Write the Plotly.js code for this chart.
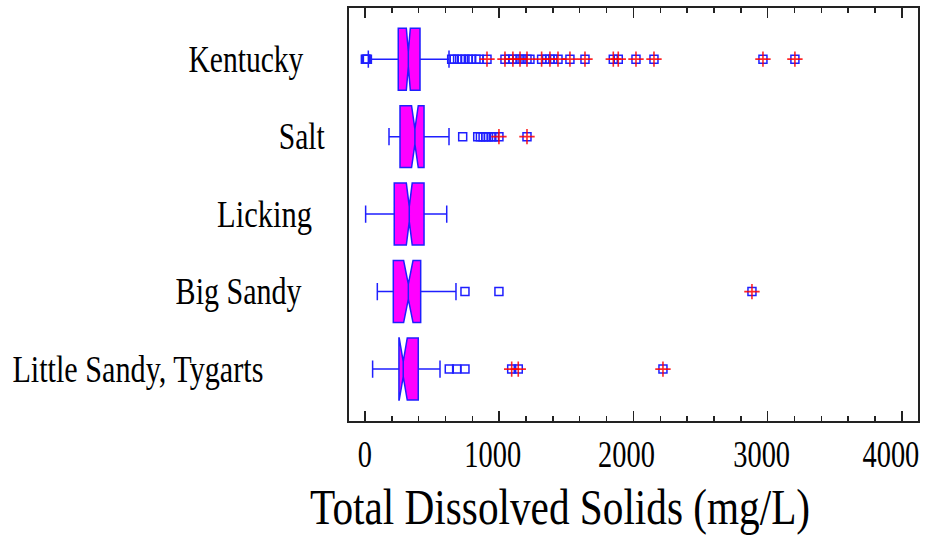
<!DOCTYPE html>
<html>
<head>
<meta charset="utf-8">
<script src="https://cdn.plot.ly/plotly-3.0.1.min.js"></script>
<style>html,body{margin:0;padding:0;background:#fff;}#chart{width:929px;height:542px;}</style>
</head>
<body>
<div id="chart"></div>
<script>
// ---- data (mg/L) ----
const categories = ['Kentucky', 'Salt', 'Licking', 'Big Sandy', 'Little Sandy, Tygarts'];
const q1 = [248, 261, 218, 211, 253];
const median = [323, 372, 330, 323, 285];
const q3 = [410, 440, 440, 415, 397];
const lowerFence = [25, 179, 5, 92, 57];
const upperFence = [626, 626, 609, 678, 559];
const notchSpan = [15, 25, 22, 35, 30];

const kentuckyOutliers = [3, 10, 18, 646, 665, 690, 720, 745, 770, 795, 827, 850, 909, 1043, 1073, 1102, 1132, 1155, 1177, 1207, 1229, 1316, 1353, 1378, 1400, 1438, 1527, 1639, 1850, 1887, 2019, 2153, 2965, 3203];
const kentuckyFar = [909, 1043, 1102, 1155, 1207, 1316, 1378, 1438, 1527, 1639, 1850, 1887, 2019, 2153, 2965, 3203];
const saltOutliers = [728, 840, 860, 880, 900, 920, 945, 965, 998, 1207];
const saltFar = [998, 1207];
const lickingOutliers = [];
const lickingFar = [];
const bigSandyOutliers = [745, 998, 2883];
const bigSandyFar = [2883];
const littleSandyOutliers = [628, 683, 745, 1093, 1142, 2220];
const littleSandyFar = [1093, 1142, 2220];

const xTickVals = [0, 1000, 2000, 3000, 4000];
const xTitle = 'Total Dissolved Solids (mg/L)';

// ---- build ----
const outLists = [kentuckyOutliers, saltOutliers, lickingOutliers, bigSandyOutliers, littleSandyOutliers];
const farLists = [kentuckyFar, saltFar, lickingFar, bigSandyFar, littleSandyFar];
function flatten(lists) {
  const xs = [], ys = [];
  lists.forEach((l, i) => l.forEach(v => { xs.push(v); ys.push(categories[i]); }));
  return {xs, ys};
}
const outs = flatten(outLists);
const fars = flatten(farLists);

const BLUE = '#1f1fff';
const FONT = '"Liberation Serif", "Times New Roman", Times, serif';

const traces = [
  {
    type: 'box', orientation: 'h',
    y: categories, q1: q1, median: median, q3: q3,
    lowerfence: lowerFence, upperfence: upperFence, notchspan: notchSpan,
    notched: true, notchwidth: 0.38, whiskerwidth: 0.28, width: 0.8,
    boxpoints: false,
    fillcolor: '#ff00ff', line: {color: BLUE, width: 1.5},
    hoverinfo: 'skip', showlegend: false
  },
  {
    type: 'scatter', mode: 'markers', x: outs.xs, y: outs.ys,
    marker: {symbol: 'square-open', size: 8, color: BLUE, line: {width: 1.5, color: BLUE}},
    showlegend: false, hoverinfo: 'x'
  },
  {
    type: 'scatter', mode: 'markers', x: fars.xs, y: fars.ys,
    marker: {symbol: 'cross-thin-open', size: 11, color: 'rgba(255,0,0,0.85)', line: {width: 1.6, color: 'rgba(255,0,0,0.85)'}},
    showlegend: false, hoverinfo: 'x'
  }
];

// label layout (pixels): horizontal centres and target (condensed) widths
const labelCenters = [245.5, 302, 264.5, 239, 137.5];
const labelWidths = [115, 46, 95, 126, 251];
const titleCenter = 560, titleWidth = 500;
const tickCharWidth = 14.2;
const tickLabelOffsets = [0, -6.5, -7, -6, -11];

const plotLeft = 349, plotW = 929 - 11 - 349, plotH = 542 - 8 - 121;
const annotations = categories.map((c, i) => ({
  text: c, xref: 'paper', yref: 'y', y: c,
  x: (labelCenters[i] - plotLeft) / plotW, xanchor: 'center', yanchor: 'middle',
  showarrow: false, font: {family: FONT, size: 37, color: '#000'}
}));
annotations.push({
  text: xTitle, xref: 'paper', yref: 'paper',
  x: (titleCenter - plotLeft) / plotW, y: -(478 - 421) / plotH, xanchor: 'center', yanchor: 'top',
  borderpad: 0, showarrow: false, font: {family: FONT, size: 50, color: '#000'}
});

const layout = {
  width: 929, height: 542,
  margin: {l: 349, r: 11, t: 8, b: 121},
  paper_bgcolor: '#fff', plot_bgcolor: '#fff',
  showlegend: false,
  font: {family: FONT, color: '#000'},
  xaxis: {
    range: [-119, 4120], tickvals: xTickVals, ticktext: xTickVals.map(String),
    ticks: 'inside', ticklen: 10, tickwidth: 1.5, tickcolor: '#222',
    minor: {dtick: 200, ticks: 'inside', ticklen: 5, tickwidth: 1.5, tickcolor: '#222', showgrid: false},
    showline: true, linecolor: '#222', linewidth: 2, mirror: 'ticks',
    showgrid: false, zeroline: false, ticklabeloverflow: 'allow',
    tickfont: {family: FONT, size: 37, color: '#000'}
  },
  yaxis: {
    type: 'category', categoryorder: 'array', categoryarray: categories,
    range: [4.67, -0.66], showticklabels: false, ticks: '',
    showline: true, linecolor: '#222', linewidth: 2, mirror: true,
    showgrid: false, zeroline: false
  },
  annotations: annotations
};

function squeeze(el, target) {
  if (!el || !(target > 0)) return;
  el.setAttribute('textLength', target.toFixed(1));
  el.setAttribute('lengthAdjust', 'spacingAndGlyphs');
}

Plotly.newPlot('chart', traces, layout, {staticPlot: true, displayModeBar: false}).then(() => {
  const ann = document.querySelectorAll('#chart .annotation-text');
  ann.forEach(el => {
    const t = el.textContent;
    const i = categories.indexOf(t);
    if (i >= 0) squeeze(el, labelWidths[i]);
    else if (t === xTitle) squeeze(el, titleWidth);
  });
  document.querySelectorAll('#chart .xtick text').forEach(el => {
    const t = el.textContent;
    squeeze(el, t.length * tickCharWidth);
    const k = xTickVals.map(String).indexOf(t);
    if (k >= 0) {
      const x0 = parseFloat(el.getAttribute('x') || '0') || 0;
      el.setAttribute('x', (x0 + tickLabelOffsets[k]).toFixed(1));
    }
  });
});
</script>
</body>
</html>
